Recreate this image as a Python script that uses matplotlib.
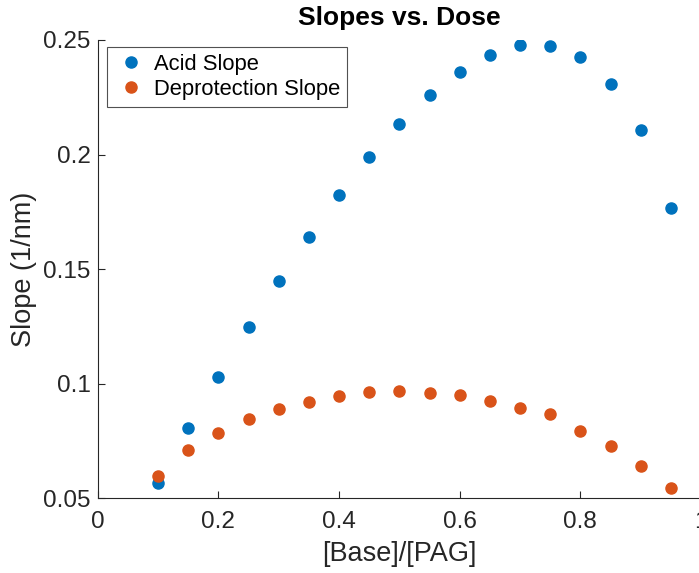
import matplotlib
matplotlib.use("Agg")
import matplotlib.pyplot as plt

x = [0.1, 0.15, 0.2, 0.25, 0.3, 0.35, 0.4, 0.45, 0.5, 0.55, 0.6, 0.65, 0.7, 0.75, 0.8, 0.85, 0.9, 0.95]
acid = [0.0566, 0.0806, 0.1028, 0.1247, 0.1448, 0.164, 0.1823, 0.1989, 0.2133, 0.226, 0.236,
        0.2434, 0.2478, 0.2474, 0.2426, 0.2308, 0.2107, 0.1766]
deprot = [0.0596, 0.071, 0.0784, 0.0845, 0.0889, 0.0919, 0.0945, 0.0963, 0.0967, 0.0959, 0.095,
          0.0924, 0.0893, 0.0867, 0.0793, 0.0727, 0.064, 0.0544]

plt.rcParams['font.family'] = ['Liberation Sans', 'DejaVu Sans']

fig = plt.figure(figsize=(6.99, 5.73), dpi=100)
ax = fig.add_axes([97.7/699, (573-498.3)/573, 603.3/699, 458.3/573])

ax.plot(x, acid, 'o', color='#0072BD', markersize=8, label='Acid Slope')
ax.plot(x, deprot, 'o', color='#D95319', markersize=8, label='Deprotection Slope')

ax.set_xlim(0, 1)
ax.set_ylim(0.05, 0.25)
ax.set_xticks([0, 0.2, 0.4, 0.6, 0.8, 1])
ax.set_xticklabels(['0', '0.2', '0.4', '0.6', '0.8', '1'])
ax.set_yticks([0.05, 0.1, 0.15, 0.2, 0.25])
ax.set_yticklabels(['0.05', '0.1', '0.15', '0.2', '0.25'])
ax.tick_params(direction='in', labelsize=17.5, colors='#262626', length=5, width=0.8)
ax.tick_params(axis='y', pad=5)
ax.tick_params(axis='x', pad=9)
for s in ['top', 'right']:
    ax.spines[s].set_visible(False)
for s in ['left', 'bottom']:
    ax.spines[s].set_color('#262626')
    ax.spines[s].set_linewidth(0.8)

ax.set_xlabel('[Base]/[PAG]', fontsize=19.5, color='#262626', labelpad=6)
ax.set_ylabel('Slope (1/nm)', fontsize=19.5, color='#262626', labelpad=4.5)
ax.set_title('Slopes vs. Dose', fontsize=19, fontweight='bold', pad=10.5)

leg = ax.legend(loc='upper left', bbox_to_anchor=(0.0154, 0.9847), fontsize=15.8, frameon=True,
                fancybox=False, edgecolor='#262626', handletextpad=0.26, borderpad=0.3,
                labelspacing=0.2, handlelength=1.59, borderaxespad=0)
leg.get_frame().set_linewidth(0.8)

fig.savefig('out.png', dpi=100)
